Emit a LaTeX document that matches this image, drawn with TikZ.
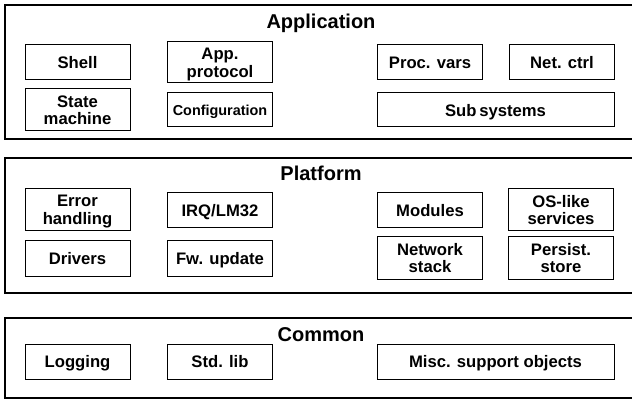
\documentclass[tikz,border=0pt]{standalone}
\usepackage{fontspec}
\setsansfont{Liberation Sans}
\begin{document}
\begin{tikzpicture}[y=-0.75pt, x=0.75pt, font=\sffamily\bfseries,
    layer/.style={draw, line width=1.5pt},
    title/.style={anchor=base, font=\sffamily\bfseries\fontsize{15}{16}\selectfont},
    blk/.style={draw, line width=0.75pt, inner sep=0pt, align=center,
      minimum width=78.75pt, minimum height=26.25pt, text depth=0pt,
      font=\sffamily\bfseries\fontsize{12.5}{13.2}\selectfont},
    tall/.style={blk, minimum height=31.5pt},
    wide/.style={blk, minimum width=177.75pt}]
      \useasboundingbox (0,0) rectangle (632,399);
      \clip (0,0) rectangle (632,399);

      %% layers
      \foreach \ytop/\ybot/\ybase/\name/\txt in
          {5/139/28.5/app/Application, 158/293/180.5/plat/Platform,
           318/397.5/341/com/Common} {
        \draw[layer] (4.5,\ytop) rectangle (650,\ybot);
        \node[title] (\name) at (321,\ybase) {\txt};
      }

      %% application
      \node[blk]  (shell)  at (77.5,62.5)  {Shell};
      \node[tall] (state)  at (77.5,110)   {State\\machine};
      \node[tall, minimum height=30.75pt] (proto) at (220,62.5) {App.\\protocol};
      \node[blk, minimum height=25.5pt,
            font=\sffamily\bfseries\fontsize{10.8}{12}\selectfont]
                  (config) at (220,110)    {Configuration};
      \node[blk]  (pvars)  at (430,62.5)   {Proc. vars};
      \node[blk]  (netctl) at (562,62.5)   {Net. ctrl};
      \node[wide, minimum height=25.5pt] (subsys) at (495.5,110) {Sub\,systems};

      %% platform
      \node[tall] (error)  at (77.5,210)   {Error\\handling};
      \node[blk]  (drv)    at (77.5,258.5) {Drivers};
      \node[blk]  (irq)    at (220,210.5)  {IRQ/LM32};
      \node[blk]  (fwupd)  at (220,258.5)  {Fw. update};
      \node[blk]  (mods)   at (430,210.5)  {Modules};
      \node[tall] (oslike) at (561,210)    {OS-like\\services};
      \node[tall] (netstk) at (430,258)    {Network\\stack};
      \node[tall] (persist) at (561,258)   {Persist.\\store};

      %% common
      \node[blk]  (log)    at (77.5,361.5) {Logging};
      \node[blk]  (stdlib) at (220,361.5)  {Std. lib};
      \node[wide] (misc)   at (495.5,361.5) {Misc. support objects};

      \end{tikzpicture}
\end{document}
